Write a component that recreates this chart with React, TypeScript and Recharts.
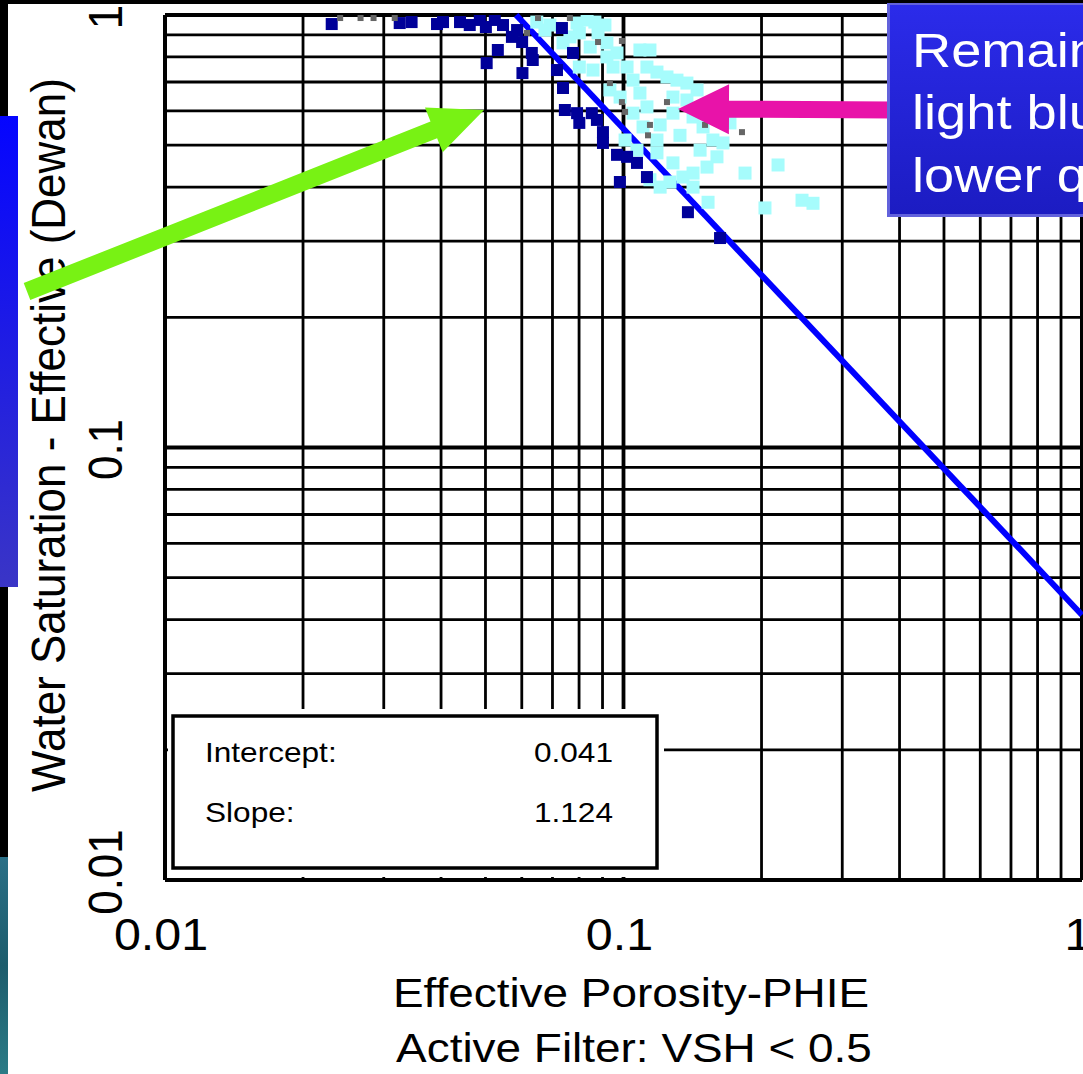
import React from 'react';
import { ScatterChart, Scatter, XAxis, YAxis, ReferenceLine } from 'recharts';

const W = 1083;
const H = 1074;
const FONT = '"Liberation Sans", Arial, Helvetica, sans-serif';

// Power-law fit Sw = intercept * PHIE^(-slope)
const fitIntercept = 0.041;
const fitSlope = 1.124;

const xTicks = [0.01, 0.1, 1];
const yTicks = [0.01, 0.1, 1];
const minorGrid = [0.02, 0.03, 0.04, 0.05, 0.06, 0.07, 0.08, 0.09, 0.2, 0.3, 0.4, 0.5, 0.6, 0.7, 0.8, 0.9];

// [PHIE, Sw] pairs
const cleanZone: [number, number][] = [
  [0.0231, 0.953], [0.0325, 0.958], [0.0345, 0.963], [0.0392, 0.953], [0.0404, 0.963],
  [0.044, 0.963], [0.0462, 0.948], [0.0486, 0.974], [0.0501, 0.938], [0.0524, 0.974],
  [0.0546, 0.948], [0.0586, 0.923], [0.0571, 0.89], [0.0601, 0.866], [0.0532, 0.83],
  [0.0503, 0.774], [0.0602, 0.734], [0.0631, 0.817], [0.0634, 0.787], [0.0734, 0.933],
  [0.0716, 0.746], [0.0738, 0.678], [0.0745, 0.603], [0.0792, 0.593], [0.0801, 0.563],
  [0.0853, 0.593], [0.0875, 0.572], [0.0902, 0.536], [0.0902, 0.506], [0.0968, 0.475],
  [0.1018, 0.47], [0.107, 0.455], [0.1125, 0.422], [0.0982, 0.411], [0.1382, 0.35],
  [0.1624, 0.305], [0.0776, 0.817],
];

const lowerQuality: [number, number][] = [
  [0.0647, 0.963], [0.0691, 0.948], [0.0792, 0.958], [0.0833, 0.974], [0.0801, 0.909],
  [0.0738, 0.862], [0.0764, 0.89], [0.0846, 0.843], [0.088, 0.909], [0.092, 0.862],
  [0.0801, 0.758], [0.0858, 0.746], [0.092, 0.8], [0.0949, 0.758], [0.0968, 0.817],
  [0.0934, 0.671], [0.0983, 0.646], [0.1018, 0.758], [0.1049, 0.707], [0.1086, 0.83],
  [0.1142, 0.83], [0.1125, 0.758], [0.1183, 0.738], [0.1244, 0.719], [0.1308, 0.707],
  [0.1375, 0.696], [0.1086, 0.66], [0.1125, 0.613], [0.1049, 0.593], [0.1103, 0.551],
  [0.1183, 0.514], [0.1282, 0.646], [0.1282, 0.593], [0.1375, 0.636], [0.1418, 0.581],
  [0.1447, 0.671], [0.1491, 0.551], [0.1567, 0.514], [0.1648, 0.506], [0.1599, 0.47],
  [0.1521, 0.445], [0.1418, 0.431], [0.1348, 0.422], [0.1282, 0.455], [0.1183, 0.48],
  [0.1418, 0.4], [0.2173, 0.45], [0.1841, 0.431], [0.1529, 0.369], [0.2035, 0.358],
  [0.2451, 0.373], [0.259, 0.367], [0.1707, 0.563], [0.1263, 0.411], [0.0674, 0.923],
  [0.0866, 0.963], [0.0911, 0.948], [0.1008, 0.514], [0.107, 0.487], [0.1142, 0.416],
  [0.1202, 0.4], [0.1469, 0.487], [0.1202, 0.557], [0.1328, 0.527],
];

const unclassified: [number, number][] = [
  [0.088, 0.866], [0.0992, 0.871], [0.0934, 0.696], [0.0992, 0.629], [0.1008, 0.597],
  [0.1244, 0.629], [0.1142, 0.557], [0.1131, 0.527], [0.1506, 0.557], [0.1813, 0.536],
  [0.0241, 0.984], [0.0267, 0.984], [0.0285, 0.984], [0.0317, 0.984], [0.0651, 0.984],
  [0.0764, 0.984], [0.0616, 0.909],
];

const toPoints = (rows: [number, number][]) => rows.map(([phie, sw]) => ({ phie, sw }));

const square = (size: number, fill: string) => (p: any) => (
  <rect x={p.cx - size / 2} y={p.cy - size / 2} width={size} height={size} fill={fill} />
);

const XTick = (props: any) => {
  const { x, y, payload } = props;
  return (
    <text
      transform={`translate(${x - 4},${y + 70}) scale(1.1,1)`}
      textAnchor="middle"
      fontSize={44}
      fontFamily={FONT}
      fill="#000"
    >
      {String(payload.value)}
    </text>
  );
};

const YTick = (props: any) => {
  const { x, y, payload } = props;
  const dy = payload.value === 0.01 ? -8 : 2;
  return (
    <text
      transform={`translate(${x - 43},${y + dy}) scale(1.1,1) rotate(-90)`}
      textAnchor="middle"
      fontSize={44}
      fontFamily={FONT}
      fill="#000"
    >
      {String(payload.value)}
    </text>
  );
};

// Arrow outline from tail to tip with a triangular head
function arrowPoints(tail: [number, number], tip: [number, number], shaftW: number, headW: number, headL: number) {
  const dx = tip[0] - tail[0];
  const dy = tip[1] - tail[1];
  const len = Math.hypot(dx, dy);
  const ux = dx / len, uy = dy / len;
  const nx = -uy, ny = ux;
  const bx = tip[0] - ux * headL, by = tip[1] - uy * headL;
  const pts = [
    [tail[0] - nx * shaftW / 2, tail[1] - ny * shaftW / 2],
    [bx - nx * shaftW / 2, by - ny * shaftW / 2],
    [bx - nx * headW / 2, by - ny * headW / 2],
    tip,
    [bx + nx * headW / 2, by + ny * headW / 2],
    [bx + nx * shaftW / 2, by + ny * shaftW / 2],
    [tail[0] + nx * shaftW / 2, tail[1] + ny * shaftW / 2],
  ];
  return pts.map((p) => `${p[0].toFixed(1)},${p[1].toFixed(1)}`).join(' ');
}

export default function App() {
  const phieAtFullSw = Math.pow(1 / fitIntercept, -1 / fitSlope);
  return (
    <div style={{ position: 'absolute', left: 0, top: 0, width: W, height: H, overflow: 'hidden', background: '#000' }}>
      <svg width={W} height={H} style={{ position: 'absolute', left: 0, top: 0 }}>
        <defs>
          <linearGradient id="sideBar" x1="0" y1="0" x2="0" y2="1">
            <stop offset="0" stopColor="#0505ff" />
            <stop offset="1" stopColor="#3a35c6" />
          </linearGradient>
          <linearGradient id="sea" x1="0" y1="0" x2="0" y2="1">
            <stop offset="0" stopColor="#2a6f86" />
            <stop offset="0.5" stopColor="#1d5c6c" />
            <stop offset="1" stopColor="#2b7b86" />
          </linearGradient>
        </defs>
        <rect x={8} y={4} width={W - 8} height={H - 4} fill="#fff" />
        <rect x={0} y={116} width={18} height={471} fill="url(#sideBar)" />
        <rect x={0} y={857} width={8} height={217} fill="url(#sea)" />
      </svg>

      <div style={{ position: 'absolute', left: 0, top: 0 }}>
        <ScatterChart width={W} height={H} margin={{ top: 15, right: 1, bottom: 0, left: 0 }}>
          <XAxis
            dataKey="phie"
            type="number"
            scale="log"
            domain={[0.01, 1]}
            ticks={xTicks}
            interval={0}
            height={194}
            tickSize={0}
            tickMargin={0}
            tickLine={false}
            tick={<XTick />}
            axisLine={{ stroke: '#000', strokeWidth: 4 }}
            allowDataOverflow
          />
          <YAxis
            dataKey="sw"
            type="number"
            scale="log"
            domain={[0.01, 1]}
            ticks={yTicks}
            interval={0}
            width={165}
            tickSize={0}
            tickMargin={0}
            tickLine={false}
            tick={<YTick />}
            axisLine={{ stroke: '#000', strokeWidth: 4 }}
            allowDataOverflow
          />
          {minorGrid.map((v) => (
            <ReferenceLine key={`gx${v}`} x={v} stroke="#000" strokeWidth={2.8} />
          ))}
          {minorGrid.map((v) => (
            <ReferenceLine key={`gy${v}`} y={v} stroke="#000" strokeWidth={2.8} />
          ))}
          <ReferenceLine x={0.1} stroke="#000" strokeWidth={3.8} />
          <ReferenceLine y={0.1} stroke="#000" strokeWidth={3.8} />
          <ReferenceLine x={1} stroke="#000" strokeWidth={4} />
          <ReferenceLine y={1} stroke="#000" strokeWidth={4} />
          <Scatter data={toPoints(lowerQuality)} shape={square(13, '#a6fcfc')} isAnimationActive={false} />
          <Scatter data={toPoints(cleanZone)} shape={square(12, '#000099')} isAnimationActive={false} />
          <Scatter data={toPoints(unclassified)} shape={square(6, '#666666')} isAnimationActive={false} />
          <ReferenceLine
            segment={[
              { x: phieAtFullSw, y: 1 },
              { x: 1, y: fitIntercept },
            ]}
            stroke="#0000ff"
            strokeWidth={6}
          />
        </ScatterChart>
      </div>

      <svg width={W} height={H} style={{ position: 'absolute', left: 0, top: 0, pointerEvents: 'none' }}>
        <defs>
          <linearGradient id="callout" x1="0" y1="0" x2="0" y2="1">
            <stop offset="0" stopColor="#2b2bea" />
            <stop offset="1" stopColor="#1c1cc2" />
          </linearGradient>
        </defs>

        {/* regression summary */}
        <rect x={168} y={709} width={496} height={168} fill="#fff" />
        <rect x={173} y={716} width={484} height={152} fill="#fff" stroke="#000" strokeWidth={3.5} />
        <g fontFamily={FONT} fontSize={27} fill="#000">
          <text transform="translate(205,762) scale(1.17,1)">Intercept:</text>
          <text transform="translate(613,762) scale(1.17,1)" textAnchor="end">{fitIntercept.toFixed(3)}</text>
          <text transform="translate(205,822) scale(1.17,1)">Slope:</text>
          <text transform="translate(613,822) scale(1.17,1)" textAnchor="end">{fitSlope.toFixed(3)}</text>
        </g>

        {/* axis titles */}
        <text
          transform="translate(65,435) scale(1.11,1) rotate(-90)"
          textAnchor="middle"
          fontFamily={FONT}
          fontSize={44}
          fill="#000"
        >
          Water Saturation - Effective (Dewan)
        </text>
        <text transform="translate(631,1007) scale(1.12,1)" textAnchor="middle" fontFamily={FONT} fontSize={41} fill="#000">
          Effective Porosity-PHIE
        </text>
        <text transform="translate(634,1062) scale(1.12,1)" textAnchor="middle" fontFamily={FONT} fontSize={41} fill="#000">
          Active Filter: VSH &lt; 0.5
        </text>

        {/* annotation arrows */}
        <polygon points={arrowPoints([27, 291.5], [484, 110], 18, 48, 54)} fill="#78f214" />
        <polygon points={arrowPoints([892, 110], [678, 109], 17, 50, 51)} fill="#e813a9" />

        {/* callout */}
        <rect x={887} y={3} width={230} height={214} fill="#6262dc" />
        <rect x={890} y={5} width={227} height={209} fill="url(#callout)" />
        <g fontFamily={FONT} fontSize={48} fill="#fff">
          <text transform="translate(912,67) scale(1.13,1)">Remaining</text>
          <text transform="translate(912,129) scale(1.13,1)">light blue</text>
          <text transform="translate(912,192) scale(1.13,1)">lower quality</text>
        </g>
      </svg>
    </div>
  );
}
